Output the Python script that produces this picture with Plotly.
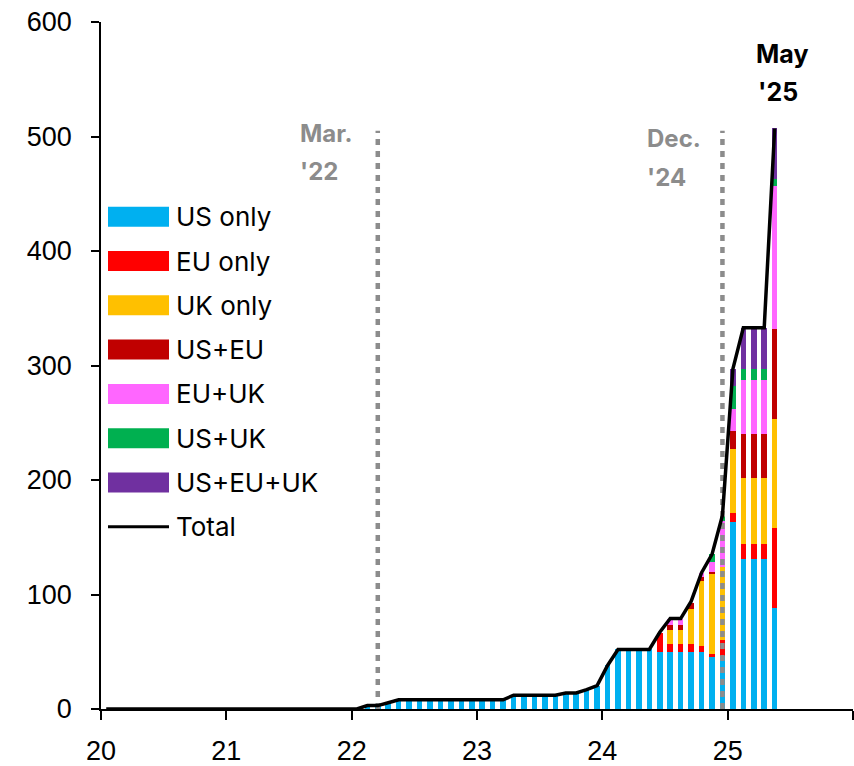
import plotly.graph_objects as go

# ---------------- data ----------------
bar_months = [f"{y}-{m:02d}" for y in range(2022, 2026) for m in range(1, 13)][:41]   # Jan 2022 .. May 2025
line_months = [f"{y}-{m:02d}" for y in range(2020, 2026) for m in range(1, 13)][:65]  # Jan 2020 .. May 2025

us_only = [0, 3, 3, 6, 8, 8, 8, 8, 8, 8, 8, 8,
           8, 8, 8, 12, 12, 12, 12, 12, 14, 14, 17, 20.5,
           38, 52, 52, 52, 52, 50, 50, 50, 50, 50, 45, 46,
           163, 131, 131, 131, 88]
eu_only = [0] * 12 + [0] * 12 + \
          [0, 0, 0, 0, 0, 16, 7, 7, 7, 5, 3, 14] + \
          [8, 13, 13, 13, 70]
uk_only = [0] * 12 + [0] * 12 + \
          [0, 0, 0, 0, 0, 0, 12, 12, 30, 57, 70, 64] + \
          [56, 58, 58, 58, 95]
us_eu = [0] * 12 + [0] * 12 + \
        [0, 0, 0, 0, 0, 0, 4, 4, 6, 3, 2, 0] + \
        [16, 38, 38, 38, 79]
eu_uk = [0] * 12 + [0] * 12 + \
        [0, 0, 0, 0, 0, 0, 6, 6, 0, 4, 8, 40] + \
        [19, 47, 47, 47, 125]
us_uk = [0] * 12 + [0] * 12 + \
        [0, 0, 0, 0, 0, 0, 0, 0, 0, 0, 7, 5] + \
        [20, 10, 10, 10, 6]
us_eu_uk = [0] * 12 + [0] * 12 + \
           [0, 0, 0, 0, 0, 0, 0, 0, 0, 0, 0, 0] + \
           [15, 36, 36, 36, 44]

total = [0] * 24 + \
        [0, 3, 3, 5.5, 8, 8, 8, 8, 8, 8, 8, 8,
         8, 8, 8, 12, 12, 12, 12, 12, 14, 14, 17, 20.5,
         38, 52, 52, 52, 52, 67, 79, 79, 94, 119, 135, 169,
         297, 333, 333, 333, 507]

series_names = ["US only", "EU only", "UK only", "US+EU", "EU+UK", "US+UK", "US+EU+UK"]
series_values = [us_only, eu_only, uk_only, us_eu, eu_uk, us_uk, us_eu_uk]
series_colors = ["#00B0F0", "#FF0000", "#FFC000", "#C00000", "#FF66FF", "#00B050", "#7030A0"]

events = [("Mar.", "'22", "2022-03"), ("Dec.", "'24", "2024-12")]
last_label = ("May", "'25")

x_ticks = [20, 21, 22, 23, 24, 25, 26]
x_ticktext = ["20", "21", "22", "23", "24", "25", ""]
y_ticks = [0, 100, 200, 300, 400, 500, 600]


def month_pos(s):
    y, m = s.split("-")
    return int(y) - 2000 + (int(m) - 0.5) / 12


bx = [month_pos(s) for s in bar_months]
lx = [month_pos(s) for s in line_months]

# ---------------- figure ----------------
W, H = 854, 766
ML, MR, MT, MB = 101, 1, 22, 57
PW, PH = W - ML - MR, H - MT - MB


def px(xpix):
    return (xpix - ML) / PW


def py(ypix):
    return (H - MB - ypix) / PH


fig = go.Figure()
for name, vals, col in zip(series_names, series_values, series_colors):
    fig.add_trace(go.Bar(x=bx, y=vals, name=name, marker=dict(color=col, line=dict(width=0)),
                         width=0.045, showlegend=False))

for t1, t2, mon in events:
    xv = month_pos(mon)
    fig.add_trace(go.Scatter(x=[xv, xv], y=[0, 505], mode="lines", showlegend=False,
                             line=dict(color="#8C8C8C", width=4.5, dash="6px,6px"), hoverinfo="skip"))

fig.add_trace(go.Scatter(x=lx, y=total, mode="lines", name="Total", showlegend=False,
                         line=dict(color="black", width=3.5)))

shapes = []
annotations = []
FONT = "Inter, Open Sans, Liberation Sans, Arial"
# custom legend
for i, (name, col) in enumerate(zip(series_names, series_colors)):
    yc = 216.7 + i * 44.3
    shapes.append(dict(type="rect", xref="paper", yref="paper", x0=px(108), x1=px(169),
                       y0=py(yc + 10), y1=py(yc - 10), fillcolor=col, line=dict(width=0), layer="above"))
    annotations.append(dict(xref="paper", yref="paper", x=px(174), y=py(yc), text=name, showarrow=False,
                            xanchor="left", yanchor="middle", font=dict(family=FONT, size=26, color="black")))
yc = 216.7 + 7 * 44.3
shapes.append(dict(type="line", xref="paper", yref="paper", x0=px(108), x1=px(169), y0=py(yc), y1=py(yc),
                   line=dict(color="black", width=3), layer="above"))
annotations.append(dict(xref="paper", yref="paper", x=px(174), y=py(yc), text="Total", showarrow=False,
                        xanchor="left", yanchor="middle", font=dict(family=FONT, size=26, color="black")))

# event labels
ev_pix = [(298, 133, 172), (645, 139, 177)]
for (t1, t2, mon), (xl, y1, y2) in zip(events, ev_pix):
    for t, yy in ((t1, y1), (t2, y2)):
        annotations.append(dict(xref="paper", yref="paper", x=px(xl), y=py(yy), text=f"<b>{t}</b>",
                                showarrow=False, xanchor="left", yanchor="middle",
                                font=dict(family=FONT, size=24, color="#8C8C8C")))
for t, xl, yy in ((last_label[0], 754, 54), (last_label[1], 756, 92)):
    annotations.append(dict(xref="paper", yref="paper", x=px(xl), y=py(yy), text=f"<b>{t}</b>",
                            showarrow=False, xanchor="left", yanchor="middle",
                            font=dict(family=FONT, size=25, color="black")))

fig.update_layout(
    width=W, height=H, barmode="stack", bargap=0,
    margin=dict(l=ML, r=MR, t=MT, b=MB),
    paper_bgcolor="white", plot_bgcolor="white",
    shapes=shapes, annotations=annotations, showlegend=False,
    font=dict(family="Liberation Sans, Arial", size=27, color="black"),
)
fig.update_xaxes(range=[20, 26], tickvals=x_ticks, ticktext=x_ticktext, showgrid=False, zeroline=False,
                 showline=True, linecolor="black", linewidth=1.5, ticks="outside", ticklen=9,
                 tickcolor="black", tickwidth=1.5, ticklabelstandoff=8,
                 tickfont=dict(family="Liberation Sans, Arial", size=27, color="black"))
fig.update_yaxes(range=[0, 600], tickvals=y_ticks, showgrid=False, zeroline=False,
                 showline=True, linecolor="black", linewidth=1.5, ticks="outside", ticklen=8,
                 tickcolor="black", tickwidth=1.5, ticklabelstandoff=14,
                 tickfont=dict(family="Liberation Sans, Arial", size=27, color="black"))

fig.write_html("out.html", config={"displayModeBar": False})

# remove the browser's default page margin so the figure fills the window exactly
with open("out.html", "r", encoding="utf-8") as f:
    html = f.read()
html = html.replace("<head>", "<head><style>html,body{margin:0;padding:0;overflow:hidden;}</style>", 1)
with open("out.html", "w", encoding="utf-8") as f:
    f.write(html)
